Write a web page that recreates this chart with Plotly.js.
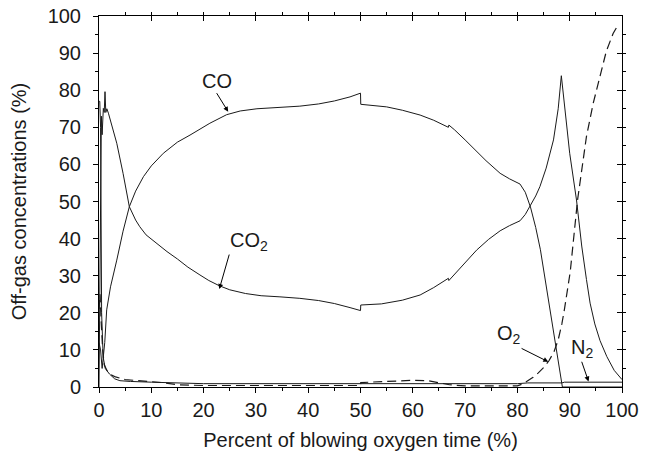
<!DOCTYPE html>
<html>
<head>
<meta charset="utf-8">
<script src="https://cdn.plot.ly/plotly-3.0.1.min.js"></script>
<style>html,body{margin:0;padding:0;background:#fff;}#chart{width:654px;height:458px;}</style>
</head>
<body>
<div id="chart"></div>
<script>
// ---- data (percent of blowing oxygen time vs off-gas concentration %) ----
const coX  = [0, 0.3, 0.6, 0.83, 1.1, 1.47, 2.2, 3.4, 4.6, 5.8, 7, 8.5, 10, 12.3, 15, 17.4, 21.2, 24.4, 27, 30.2, 34.6, 38.4, 42, 45, 48, 50,
              50.05, 52, 55, 58, 61.4, 64, 66.8, 66.9, 68, 70, 72.2, 74, 76.7, 78.5, 80.5, 81.5, 82.5, 83.5, 84.4, 85.2, 86, 86.7, 87.3, 88, 88.6, 100];
const coY  = [12, 10, 5, 8, 12, 20.8, 27, 34.2, 42, 48.6, 52.8, 56.7, 59.6, 63, 66, 67.9, 71.1, 73.4, 74.4, 75.0, 75.4, 75.7, 76.3, 77.1, 78.2, 79.2,
              76.2, 76.0, 75.5, 74.6, 73.3, 71.9, 70.0, 70.6, 69.3, 66.6, 63.5, 61, 57.6, 56.1, 54.7, 52.5, 48.5, 43, 37, 30, 22, 16, 11, 5.5, 0, 0];

const co2X = [0, 0.25, 0.45, 0.6, 0.83, 1.0, 1.15, 1.3, 1.5, 1.8, 2.5, 3.4, 4.6, 5.8, 7, 7.8, 9, 11, 13, 15, 17, 19.3, 21, 23, 25, 28, 31, 34.6, 38.4, 42, 45, 48, 50,
              50.05, 54, 58, 61.4, 64, 66.8, 66.9, 69, 72.2, 74.5, 76.7, 78.5, 80.5, 81.5, 82.4, 83.5, 84.3, 85.5, 86.9, 87.8, 88.4,
              89.3, 90, 91.3, 92.3, 93.2, 93.9, 94.8, 95.8, 97.1, 98.5, 100];
const co2Y = [0, 40, 73, 68, 75.1, 74, 79.6, 74, 75, 73.8, 70.5, 65.7, 57.6, 48.6, 45, 43.2, 41, 38.7, 36.5, 34.5, 32.3, 30.2, 28.7, 27.3, 26.2, 25.2, 24.6, 24.3, 23.9, 23.3, 22.5, 21.4, 20.6,
              22.1, 22.4, 23.4, 24.8, 26.8, 29.3, 28.7, 32, 36.9, 39.8, 42.1, 43.5, 44.8, 46.5, 48.6, 51.5, 54, 59, 66.6, 75, 83.9,
              72, 63, 50.4, 38, 29, 22.6, 17, 12.5, 8.2, 4.5, 2];

const o2X  = [0, 0.2, 0.4, 0.7, 1.0, 1.5, 2, 3, 5, 7, 10, 12, 15, 20, 50, 50.05, 55, 60, 63, 67, 70, 80, 81, 82, 83, 84, 85, 86, 87, 87.8, 88.5, 89, 90.1, 91.5, 92.3, 93.2, 94.5, 95.8, 97, 98.3, 99];
const o2Y  = [21, 25, 18, 10, 6, 4.5, 3.5, 2.8, 2, 1.8, 1.5, 1.2, 0.6, 0.4, 0.4, 1.2, 1.5, 1.8, 1.7, 0.6, 0.3, 0.3, 0.8, 1.6, 2.6, 3.8, 5.2, 7, 9.5, 12.7, 17, 21, 31, 50.4, 59, 67.5, 76.5, 83.6, 90.5, 95.3, 97];

const n2X  = [0, 0.15, 0.3, 0.5, 0.8, 1.2, 2, 3, 4, 6, 10, 15, 20, 80, 82, 88.5, 89, 100];
const n2Y  = [77, 77, 70, 20, 8, 5, 3.5, 2.2, 1.7, 1.5, 1.3, 1.1, 0.9, 0.9, 1.1, 1.1, 1.3, 1.3];

const xTickVals = [0, 10, 20, 30, 40, 50, 60, 70, 80, 90, 100];
const yTickVals = [0, 10, 20, 30, 40, 50, 60, 70, 80, 90, 100];

const lineCol = '#1a1a1a';
const FONT = 'Liberation Sans, Arial, Helvetica, sans-serif';
const TXT = '#1a1a1a';

const traces = [
  {x: coX, y: coY, mode: 'lines', line: {color: lineCol, width: 1}, name: 'CO'},
  {x: co2X, y: co2Y, mode: 'lines', line: {color: lineCol, width: 1}, name: 'CO2'},
  {x: n2X, y: n2Y, mode: 'lines', line: {color: lineCol, width: 1}, name: 'N2'},
  {x: o2X, y: o2Y, mode: 'lines', line: {color: lineCol, width: 1.2, dash: '9px,5px'}, name: 'O2'},
  {x: [null], y: [null], xaxis: 'x2', yaxis: 'y2', mode: 'lines', showlegend: false, hoverinfo: 'skip'}
];

const baseAxis = {
  range: [0, 100], tickvals: xTickVals, showgrid: false, zeroline: false,
  showline: true, linecolor: '#000', linewidth: 1, tickcolor: '#000', ticklen: 5, tickwidth: 1,
  minor: {dtick: 5, ticklen: 3, tickcolor: '#000', tickwidth: 1, showgrid: false},
  tickfont: {family: FONT, size: 20, color: TXT}
};

function arrowNote(txt, hx, hy, tx, ty, xa, ya) {
  return {x: hx, y: hy, ax: tx, ay: ty, xref: 'x', yref: 'y', axref: 'x', ayref: 'y',
          text: txt, showarrow: true, arrowhead: 2, arrowsize: 1, arrowwidth: 1, arrowcolor: '#000',
          xanchor: xa, yanchor: ya, borderpad: 0, font: {family: FONT, size: 20, color: TXT}};
}

const layout = {
  width: 654, height: 458,
  margin: {l: 99, r: 32, t: 16, b: 71, pad: 0},
  paper_bgcolor: '#fff', plot_bgcolor: '#fff',
  showlegend: false,
  font: {family: FONT, color: TXT},
  xaxis: Object.assign({}, baseAxis, {
    ticks: 'outside',
    title: {text: 'Percent of blowing oxygen time (%)', font: {family: FONT, size: 20, color: TXT}, standoff: 12}
  }),
  yaxis: Object.assign({}, baseAxis, {
    tickvals: yTickVals, ticks: 'outside', ticklabelstandoff: 8,
    title: {text: 'Off-gas concentrations (%)', font: {family: FONT, size: 20, color: TXT}, standoff: 15}
  }),
  xaxis2: Object.assign({}, baseAxis, {
    overlaying: 'x', side: 'top', anchor: 'y', ticks: 'inside', showticklabels: false
  }),
  yaxis2: Object.assign({}, baseAxis, {
    tickvals: yTickVals, overlaying: 'y', side: 'right', anchor: 'x', ticks: 'inside', showticklabels: false
  }),
  annotations: [
    arrowNote('CO', 24.7, 74.2, 22.5, 79.2, 'center', 'bottom'),
    arrowNote('CO<sub>2</sub>', 23.0, 26.4, 24.9, 35.7, 'left', 'bottom'),
    arrowNote('O<sub>2</sub>', 85.9, 6.8, 80.8, 10.4, 'right', 'bottom'),
    arrowNote('N<sub>2</sub>', 93.6, 1.5, 92.3, 6.8, 'center', 'bottom')
  ]
};

Plotly.newPlot('chart', traces, layout, {staticPlot: true, displayModeBar: false});
</script>
</body>
</html>
